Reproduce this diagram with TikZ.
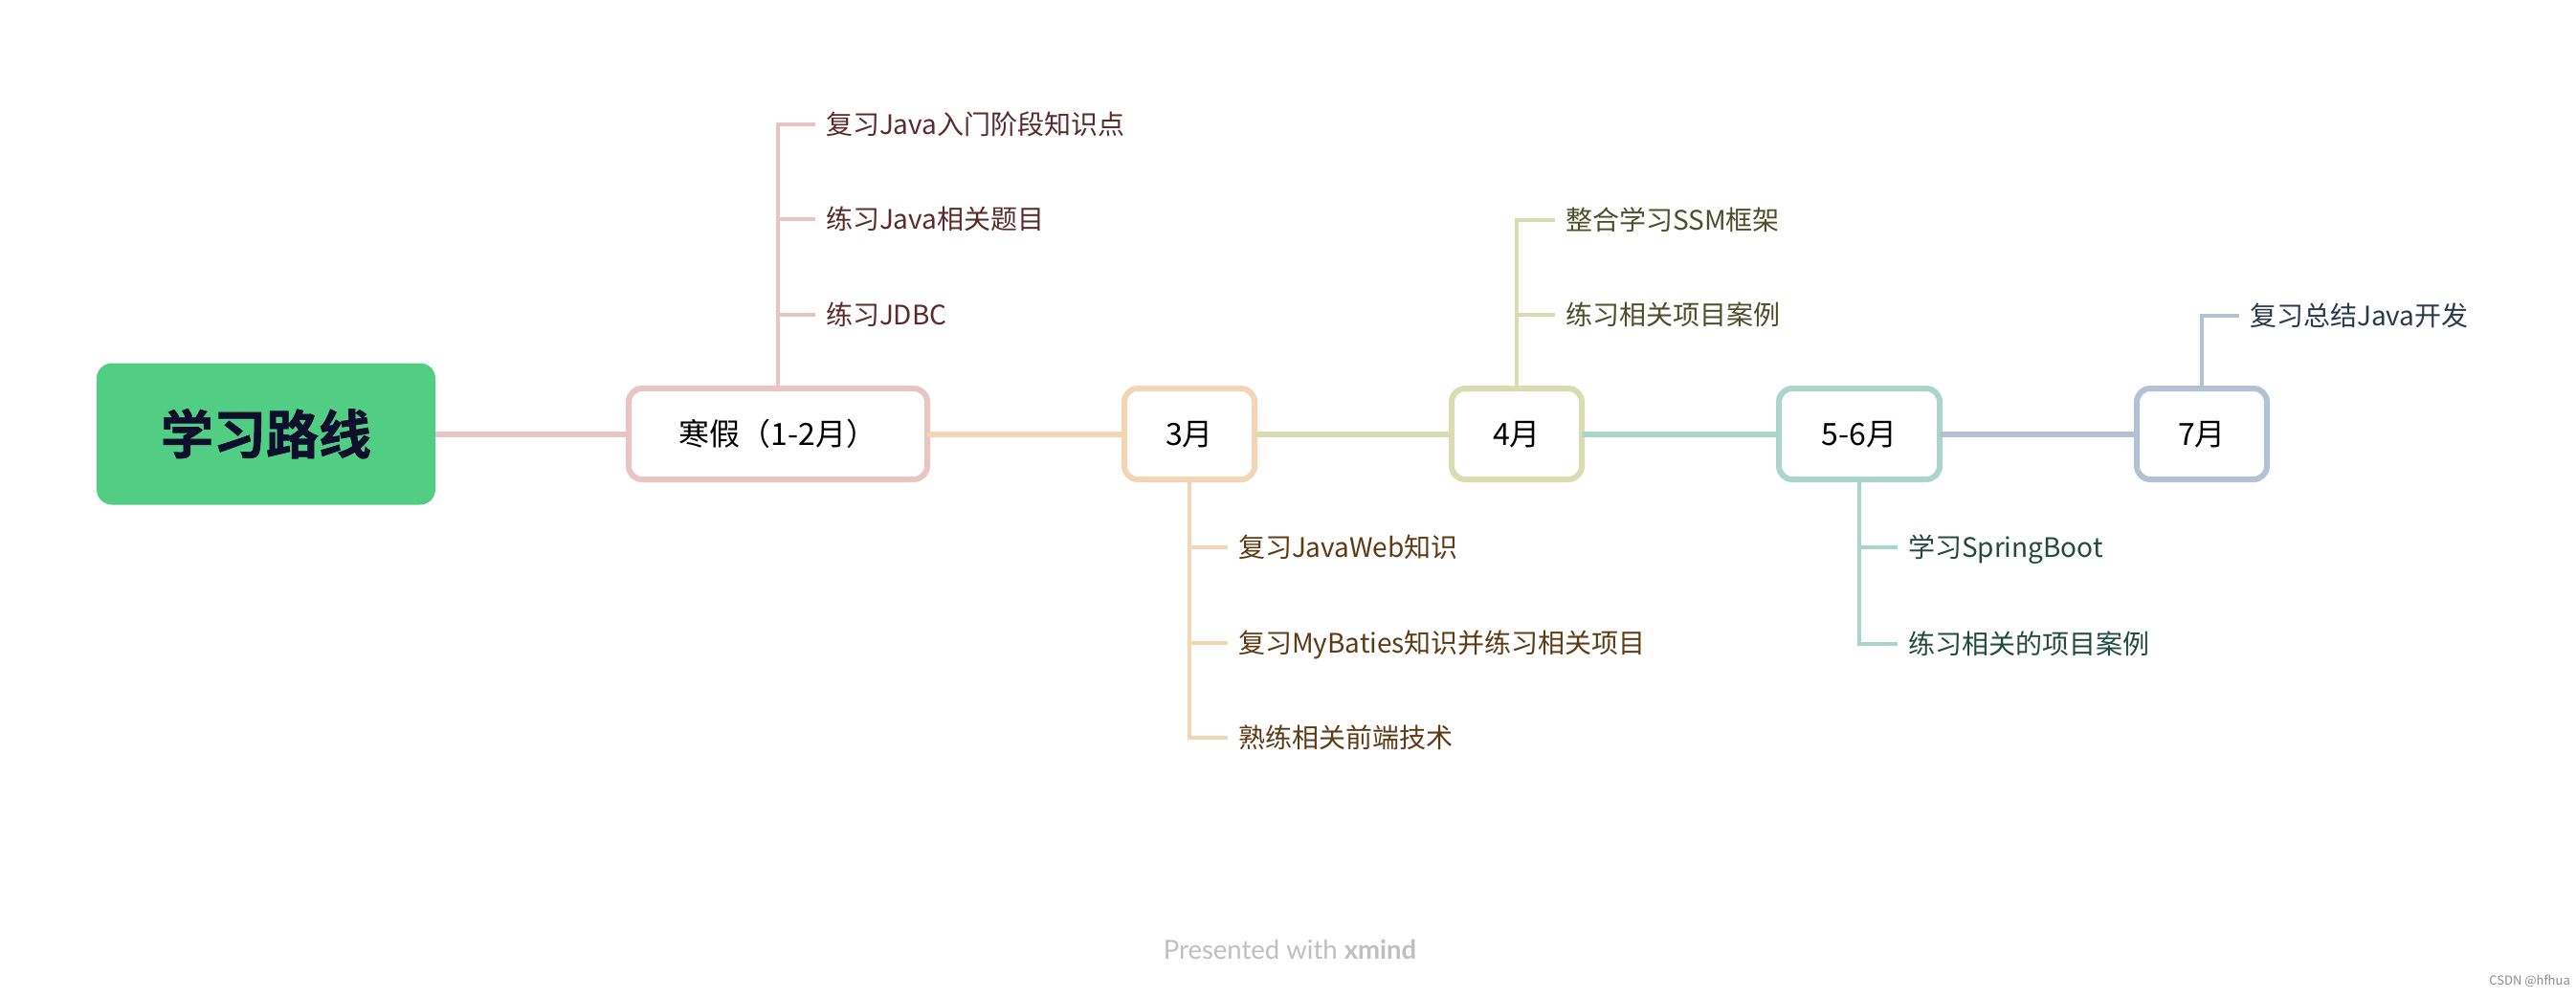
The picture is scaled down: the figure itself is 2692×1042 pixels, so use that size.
\documentclass[tikz,border=0pt]{standalone}
\usepackage{fontspec}
\setmainfont{Noto Sans CJK SC}
\newfontfamily\rootfont{Noto Sans CJK SC Bold}[FakeBold=1.2]
\newfontfamily\latofont{Lato}
\definecolor{rootgreen}{HTML}{52CD84}
\definecolor{roottext}{HTML}{0F0F2D}
\definecolor{pinkc}{HTML}{E8C4C2}
\definecolor{peachc}{HTML}{F4D5B3}
\definecolor{olivec}{HTML}{D8DCB0}
\definecolor{tealc}{HTML}{A9D5CA}
\definecolor{bluec}{HTML}{B2C2D2}
\definecolor{pinkt}{HTML}{5A2B2B}
\definecolor{peacht}{HTML}{5E3B14}
\definecolor{olivet}{HTML}{4C5028}
\definecolor{tealt}{HTML}{214B3F}
\definecolor{bluet}{HTML}{2B3A4A}
\begin{document}
\begin{tikzpicture}[x=1pt,y=-1pt,
  rootbox/.style={fill=rootgreen, rounded corners=16pt, minimum width=354pt, minimum height=148pt, inner sep=0pt, outer sep=0pt, text=roottext, font=\rootfont\fontsize{55}{60}\selectfont, text height=48.4pt, text depth=6.6pt},
  monthbox/.style={draw=#1, line width=6pt, fill=white, rounded corners=14pt, minimum height=95pt, inner sep=0pt, outer sep=0pt, font=\fontsize{32}{38}\selectfont, text height=28.2pt, text depth=3.8pt},
  leaftext/.style={anchor=west, inner xsep=11pt, inner ysep=0pt, outer sep=0pt, font=\fontsize{28}{34}\selectfont, text height=24.6pt, text depth=3.4pt, text=#1},
  mainline/.style={draw=#1, line width=6pt},
  branch/.style={draw=#1, line width=4pt},
]
\fill[white] (0,0) rectangle (2692,1042);
\useasboundingbox (0,0) rectangle (2692,1042);

\node[rootbox] (root) at (278,453.5) {学习路线};
\node[monthbox=pinkc, minimum width=312pt] (b1) at (813,453.5) {寒假（1-2月）};
\node[monthbox=peachc, minimum width=136pt] (b2) at (1243,453.5) {3月};
\node[monthbox=olivec, minimum width=136pt] (b3) at (1585,453.5) {4月};
\node[monthbox=tealc, minimum width=168pt] (b4) at (1943,453.5) {5-6月};
\node[monthbox=bluec, minimum width=136pt] (b5) at (2301,453.5) {7月};

\draw[mainline=pinkc] (root.east) -- (b1.west);
\draw[mainline=peachc] (b1.east) -- (b2.west);
\draw[mainline=olivec] (b2.east) -- (b3.west);
\draw[mainline=tealc] (b3.east) -- (b4.west);
\draw[mainline=bluec] (b4.east) -- (b5.west);

\node[leaftext=pinkt] (c11) at (852,130) {复习Java入门阶段知识点};
\node[leaftext=pinkt] (c12) at (852,229) {练习Java相关题目};
\node[leaftext=pinkt] (c13) at (852,329) {练习JDBC};
\foreach \c in {c11,c12,c13} \draw[branch=pinkc] (b1.north) |- (\c.west);

\node[leaftext=peacht] (c21) at (1283,572) {复习JavaWeb知识};
\node[leaftext=peacht] (c22) at (1283,672) {复习MyBaties知识并练习相关项目};
\node[leaftext=peacht] (c23) at (1283,771) {熟练相关前端技术};
\foreach \c in {c21,c22,c23} \draw[branch=peachc] (b2.south) |- (\c.west);

\node[leaftext=olivet] (c31) at (1625,230) {整合学习SSM框架};
\node[leaftext=olivet] (c32) at (1625,329) {练习相关项目案例};
\foreach \c in {c31,c32} \draw[branch=olivec] (b3.north) |- (\c.west);

\node[leaftext=tealt] (c41) at (1983,572) {学习SpringBoot};
\node[leaftext=tealt] (c42) at (1983,673) {练习相关的项目案例};
\foreach \c in {c41,c42} \draw[branch=tealc] (b4.south) |- (\c.west);

\node[leaftext=bluet] (c51) at (2340,330) {复习总结Java开发};
\draw[branch=bluec] (b5.north) |- (c51.west);

\node[font=\latofont\fontsize{27.5}{32}\selectfont, text=black!25] (pres) at (1348,992) {Presented with \textbf{xmind}};
\node[anchor=east, inner sep=0pt, font=\fontsize{13}{15}\selectfont, text=black!45] (csdn) at (2686,1025) {CSDN @hfhua};
\end{tikzpicture}
\end{document}
